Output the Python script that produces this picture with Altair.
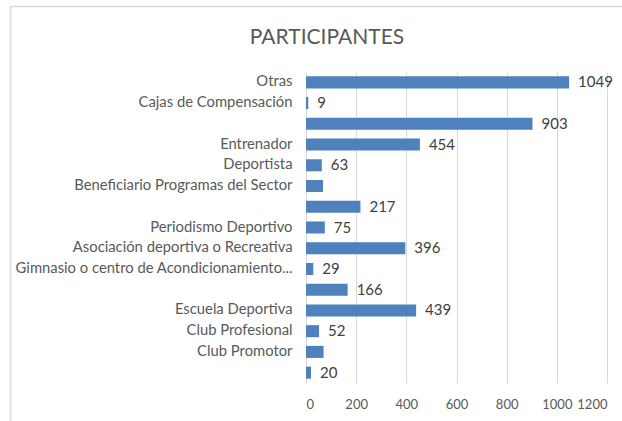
import json
import altair as alt
import pandas as pd

title_text = "PARTICIPANTES"
categories = ["Otras", "Cajas de Compensación", "", "Entrenador", "Deportista",
              "Beneficiario Programas del Sector", "", "Periodismo Deportivo",
              "Asociación deportiva o Recreativa",
              "Gimnasio o centro de Acondicionamiento...", "", "Escuela Deportiva",
              "Club Profesional", "Club Promotor", ""]
values = [1049, 9, 903, 454, 63, 68, 217, 75, 396, 29, 166, 439, 52, 70, 20]
value_labels = ["1049", "9", "903", "454", "63", "", "217", "75", "396", "29",
                "166", "439", "52", "", "20"]
x_ticks = [0, 200, 400, 600, 800, 1000, 1200]

df = pd.DataFrame({
    "row": list(range(len(values))),
    "value": values,
    "label": value_labels,
})

FONT = "Lato"
label_expr = json.dumps(categories) + "[datum.value]"

y_enc = alt.Y(
    "row:O",
    sort="ascending",
    scale=alt.Scale(paddingInner=0.42, paddingOuter=0.21),
    axis=alt.Axis(title=None, labelExpr=label_expr, ticks=False, domain=False,
                  labelPadding=14, labelFont=FONT, labelFontSize=14.8,
                  labelColor="#595959", labelLimit=320),
)
x_enc = alt.X(
    "value:Q",
    scale=alt.Scale(domain=[0, 1200], nice=False),
    axis=alt.Axis(title=None, values=x_ticks, ticks=False, domain=False,
                  grid=True, gridColor="#d9d9d9", gridWidth=1, format="d",
                  labelOverlap=False, labelFont=FONT, labelFontSize=13,
                  labelColor="#595959", labelPadding=15),
)

base = alt.Chart(df)
bars = base.mark_bar(color="#4f81bd").encode(x=x_enc, y=y_enc)
texts = base.mark_text(align="left", baseline="middle", dx=9, font=FONT,
                       fontSize=15, color="#404040").encode(
    x="value:Q", y=alt.Y("row:O", sort="ascending"), text="label:N")

title = alt.Chart(pd.DataFrame({"t": [title_text]})).mark_text(
    align="center", baseline="middle", font=FONT, fontSize=21, color="#595959",
    clip=False
).encode(x=alt.value(21), y=alt.value(-34), text="t:N")

border_left = alt.Chart(pd.DataFrame({"a": [0]})).mark_rule(
    color="#d9d9d9", strokeWidth=1.5, clip=False).encode(
    x=alt.value(-295.5), y=alt.value(-65.5), y2=alt.value(349))
border_top = alt.Chart(pd.DataFrame({"a": [0]})).mark_rule(
    color="#d9d9d9", strokeWidth=1.5, clip=False).encode(
    x=alt.value(-295.5), x2=alt.value(316), y=alt.value(-65.5))

chart = alt.layer(bars, texts, title, border_left, border_top).properties(
    width=301, height=311,
    autosize=alt.AutoSizeParams(type="none"),
    padding={"left": 306, "top": 72, "right": 15, "bottom": 38},
).configure_view(stroke=None)

chart.save("out.html", embed_options={"renderer": "svg", "actions": False})
